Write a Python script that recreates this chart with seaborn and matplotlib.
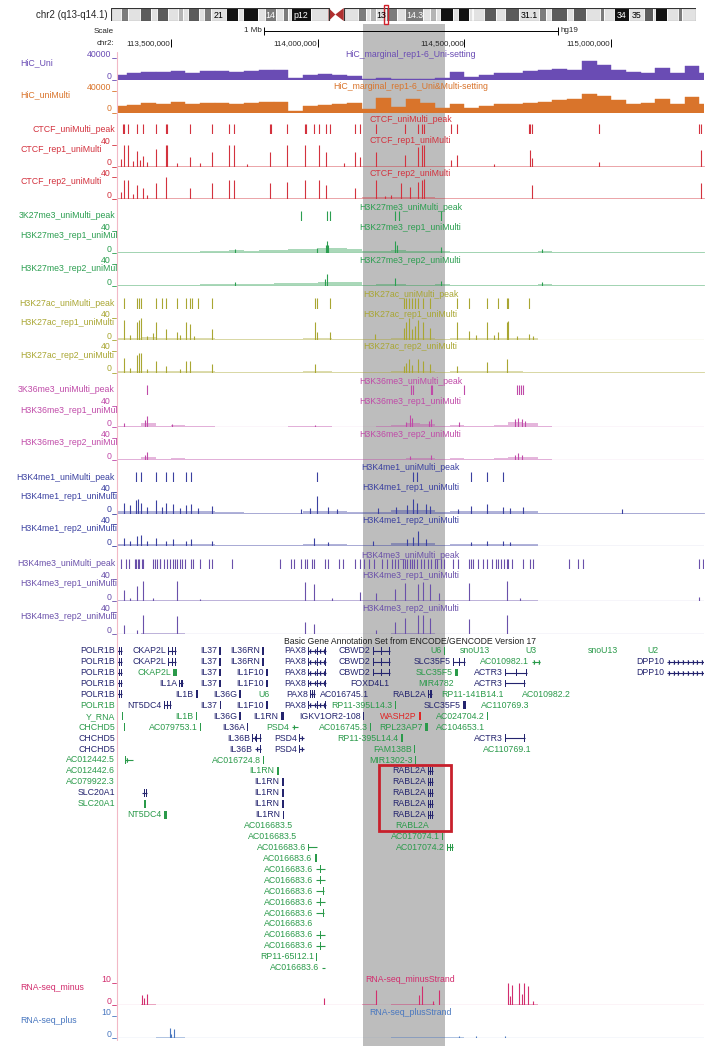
import numpy as np
import pandas as pd
import matplotlib.pyplot as plt
import seaborn as sns
from matplotlib.patches import Rectangle, Polygon
from matplotlib.lines import Line2D

W, H = 710, 1046
X0, X1 = 117, 704            # data area (pixels)
VIEW = (113.317, 115.316)    # chr2 window shown, Mb
HIGHLIGHT = (114.155, 114.434)
BIN0, BIN = 113.30, 0.05     # 50 kb bins for HiC / background signal
FS = 6.3

# ---------------- ideogram (chr2 cytobands, Mb) ----------------
band_edges = [0, 4.4, 7.1, 12.2, 16.7, 19.2, 24.0, 27.9, 30.0, 32.1, 36.6, 38.6, 41.8, 47.8,
              52.9, 55.0, 61.3, 64.1, 68.6, 71.5, 73.5, 75.0, 83.3, 90.5, 93.3, 96.8, 102.7,
              106.0, 107.5, 110.2, 114.4, 118.8, 122.4, 129.9, 132.5, 135.1, 136.8, 142.2,
              144.1, 148.7, 149.9, 150.5, 154.9, 159.8, 163.7, 169.7, 178.0, 180.6, 183.0,
              189.4, 191.9, 197.4, 203.3, 204.9, 209.0, 215.3, 221.5, 225.2, 226.1, 231.0,
              235.6, 237.3, 243.2]
band_names = ['p25.3', 'p25.2', 'p25.1', 'p24.3', 'p24.2', 'p24.1', 'p23.3', 'p23.2', 'p23.1',
              'p22.3', 'p22.2', 'p22.1', 'p21', 'p16.3', 'p16.2', 'p16.1', 'p15', 'p14',
              'p13.3', 'p13.2', 'p13.1', 'p12', 'p11.2', 'p11.1', 'q11.1', 'q11.2', 'q12.1',
              'q12.2', 'q12.3', 'q13', 'q14.1', 'q14.2', 'q14.3', 'q21.1', 'q21.2', 'q21.3',
              'q22.1', 'q22.2', 'q22.3', 'q23.1', 'q23.2', 'q23.3', 'q24.1', 'q24.2', 'q24.3',
              'q31.1', 'q31.2', 'q31.3', 'q32.1', 'q32.2', 'q32.3', 'q33.1', 'q33.2', 'q33.3',
              'q34', 'q35', 'q36.1', 'q36.2', 'q36.3', 'q37.1', 'q37.2', 'q37.3']
band_stain = ['gneg', 'gpos50', 'gneg', 'gpos75', 'gneg', 'gpos75', 'gneg', 'gpos25', 'gneg',
              'gpos75', 'gneg', 'gpos50', 'gneg', 'gpos100', 'gneg', 'gpos100', 'gneg', 'gpos50',
              'gneg', 'gpos50', 'gneg', 'gpos100', 'gneg', 'acen', 'acen', 'gneg', 'gpos50',
              'gneg', 'gpos25', 'gneg', 'gpos50', 'gneg', 'gpos50', 'gneg', 'gpos25', 'gneg',
              'gpos100', 'gneg', 'gpos100', 'gneg', 'gpos25', 'gneg', 'gpos75', 'gneg', 'gpos75',
              'gneg', 'gpos50', 'gneg', 'gpos75', 'gneg', 'gpos75', 'gneg', 'gpos50', 'gneg',
              'gpos100', 'gneg', 'gpos75', 'gneg', 'gpos100', 'gneg', 'gpos50', 'gneg']
band_shown = {'p21': '21', 'p14': '14', 'p12': 'p12', 'q13': '13', 'q14.3': '14.3',
              'q31.1': '31.1', 'q34': '34', 'q35': '35'}
stain_color = {'gneg': '#e2e2e2', 'gpos25': '#b4b4b4', 'gpos50': '#7c7c7c',
               'gpos75': '#5c5c5c', 'gpos100': '#121212', 'acen': '#b03030'}

ruler_ticks = [113.5, 114.0, 114.5, 115.0]
scale_bar = (113.818, 114.818)

# ---------------- HiC marginal (per 50 kb bin, x1000) ----------------
hic_uni = [9, 12, 15, 14, 17, 13, 17, 17, 15, 16, 19, 18, 3, 9, 11, 10, 8, 2, 3, 1, 2,
           2, 4, 15, 6, 10, 13, 12, 16, 18, 20, 19, 34, 27, 18, 15, 13, 21, 13, 25, 13]
hic_multi = [12, 13, 17, 15, 20, 15, 18, 18, 15, 18, 19, 19, 3, 12, 14, 15, 18, 6, 27, 10, 24,
             18, 8, 16, 8, 12, 15, 16, 18, 20, 22, 24, 33, 30, 22, 15, 18, 24, 15, 28, 15]

# ---------------- CTCF ----------------
ctcf_peaks = [113.337, 113.341, 113.356, 113.384, 113.406, 113.449, 113.485, 113.488, 113.567,
              113.640, 113.698, 113.717, 113.838, 113.843, 113.895, 113.957, 113.960, 113.988,
              114.004, 114.030, 114.041, 114.128, 114.146, 114.199, 114.298, 114.342, 114.357,
              114.363, 114.453, 114.476, 114.721, 114.724, 114.729, 114.958, 115.299, 115.306]
ctcf1_pos = [113.330, 113.341, 113.356, 113.370, 113.384, 113.395, 113.406, 113.420, 113.449,
             113.485, 113.488, 113.520, 113.567, 113.600, 113.640, 113.698, 113.717, 113.760,
             113.838, 113.895, 113.957, 114.004, 114.030, 114.090, 114.128, 114.146, 114.199,
             114.298, 114.342, 114.357, 114.363, 114.453, 114.476, 114.600, 114.724, 114.729,
             114.958, 115.306]
ctcf1_val = [14, 40, 40, 10, 28, 12, 20, 8, 32, 40, 40, 7, 18, 6, 27, 40, 40, 5, 27, 40, 40,
             40, 27, 6, 27, 18, 27, 21, 36, 40, 40, 12, 21, 4, 30, 15, 9, 30]
ctcf1_bg = [1.5, 1.5, 1.5, 1.5, 1.5, 1, 1, 1, 1, 1, 1, 1, 1, 1, 1, 1, 1, 1.5, 1.5, 1.5, 1.5,
            1.5, 1, 1, 1, 1, 1, 1, 1, 1, 1, 1, 1, 1, 1, 1, 1, 1, 1, 1, 1]
ctcf2_pos = [113.330, 113.341, 113.356, 113.370, 113.384, 113.406, 113.420, 113.449, 113.485,
             113.567, 113.640, 113.698, 113.717, 113.838, 113.895, 113.957, 114.004, 114.030,
             114.128, 114.199, 114.230, 114.250, 114.284, 114.314, 114.342, 114.357, 114.363,
             114.729, 115.306]
ctcf2_val = [12, 34, 34, 9, 26, 20, 7, 29, 40, 20, 29, 34, 34, 29, 31, 34, 34, 26, 20, 34, 6,
             8, 29, 22, 31, 34, 37, 26, 29]
ctcf2_bg = [1.5, 1.5, 1.5, 1.5, 1.5, 1.5, 1, 1, 1, 1, 1, 1, 1, 1, 1, 1, 1.5, 4, 4, 3.5, 3,
            3, 1.5, 1, 1, 1, 1, 1, 1, 1, 1, 1, 1, 1, 1, 1, 1, 1, 1, 1, 1]

# ---------------- H3K27me3 ----------------
k27me3_peaks = [113.945, 114.032, 114.044, 114.264, 114.277, 114.422]
k27me3_1_pos = [113.720, 113.997, 114.028, 114.032, 114.037, 114.264, 114.270, 114.422, 114.763]
k27me3_1_val = [8, 9, 15, 22, 14, 21, 14, 10, 8]
k27me3_1_bg = [1, 1, 1.5, 2, 2, 2.5, 3, 4, 5, 4, 5, 6, 7, 7, 9, 9, 8, 3, 4, 5, 3, 3, 4, 2,
               1.5, 1.5, 1.5, 1.5, 2.5, 4, 2, 1.5, 1.5, 1, 1.5, 1, 1, 1, 1, 1, 1]
k27me3_2_pos = [113.720, 114.027, 114.032, 114.264, 114.422, 114.763]
k27me3_2_val = [7, 12, 22, 15, 9, 7]
k27me3_2_bg = [1, 1, 1.5, 2, 2, 2.5, 3, 3.5, 4, 4, 4.5, 5, 6, 6, 8, 8, 7, 2.5, 3.5, 4, 2.5,
               2.5, 3, 2, 1.5, 1.5, 1.5, 1.5, 2.5, 3.5, 2, 1.5, 1, 1, 1, 1, 1, 1, 1, 1, 1]

# ---------------- H3K27ac ----------------
k27ac_peaks = [113.341, 113.384, 113.392, 113.399, 113.451, 113.469, 113.485, 113.523, 113.551,
               113.567, 113.573, 113.593, 113.640, 113.991, 113.998, 114.043, 114.295, 114.301,
               114.311, 114.321, 114.332, 114.342, 114.360, 114.383, 114.476, 114.515, 114.577,
               114.616, 114.644, 114.650, 114.721]
k27ac_1_pos = [113.341, 113.360, 113.384, 113.392, 113.399, 113.420, 113.440, 113.451, 113.485,
               113.523, 113.530, 113.551, 113.567, 113.580, 113.640, 113.991, 113.998, 114.043,
               114.197, 114.295, 114.301, 114.311, 114.321, 114.332, 114.342, 114.360, 114.383,
               114.476, 114.515, 114.540, 114.577, 114.600, 114.616, 114.644, 114.650, 114.680,
               114.721, 114.732]
k27ac_1_val = [36, 10, 33, 36, 40, 8, 12, 33, 20, 14, 9, 33, 30, 8, 20, 33, 14, 14, 11, 22, 33,
               40, 20, 26, 36, 33, 22, 33, 17, 10, 33, 9, 14, 33, 34, 8, 11, 8]
k27ac_1_bg = [4, 4, 5, 4, 4, 4, 3.5, 1.5, 1.5, 1, 1, 1, 1, 3, 3, 2.5, 1, 1, 1.5, 4, 4, 3.5, 2,
              4, 4, 4, 4, 4.5, 3.5, 0.8, 0.5, 0.5, 0.5, 0.5, 0.5, 0.5, 0.5, 0.5, 0.5, 0.5, 0.5]
k27ac_2_pos = [113.341, 113.360, 113.384, 113.392, 113.399, 113.420, 113.451, 113.485, 113.530,
               113.551, 113.567, 113.640, 113.991, 114.295, 114.301, 114.311, 114.321, 114.342,
               114.360, 114.383, 114.476, 114.577, 114.644]
k27ac_2_val = [27, 8, 32, 35, 35, 6, 21, 11, 6, 21, 21, 16, 16, 11, 18, 24, 13, 24, 21, 16, 11,
               19, 24]
k27ac_2_bg = [3, 3, 3.5, 3, 3, 3, 2.5, 1, 1, 0.8, 0.8, 0.8, 0.8, 2, 2, 1.5, 0.8, 0.8, 1, 2.5,
              2.5, 2, 1.5, 2, 2, 2, 2, 2, 1.5, 0.5, 0.4, 0.4, 0.4, 0.4, 0.4, 0.4, 0.4, 0.4, 0.4,
              0.4, 0.4]

# ---------------- H3K36me3 ----------------
k36_peaks = [113.418, 114.318, 114.326, 114.385, 114.391, 114.497, 114.678, 114.686, 114.693,
             114.701]
k36_1_pos = [113.340, 113.411, 113.418, 113.505, 113.990, 114.300, 114.314, 114.322, 114.379,
             114.388, 114.480, 114.672, 114.683, 114.695, 114.705]
k36_1_val = [8, 14, 20, 7, 5, 10, 22, 18, 12, 16, 10, 15, 18, 16, 12]
k36_1_bg = [3, 3, 8, 2, 4, 2, 2, 1.5, 1.5, 1.5, 1.5, 1.5, 2, 3, 3, 1.5, 1.5, 1.5, 3, 4, 8, 7,
            3, 5, 3, 2, 4, 10, 8, 2, 1, 1, 1, 1, 1, 1, 1, 1, 1, 1, 1]
k36_2_pos = [113.411, 113.418, 114.314, 114.388, 114.672, 114.683, 114.695]
k36_2_val = [10, 15, 8, 9, 10, 12, 10]
k36_2_bg = [2, 2, 6, 1.5, 3, 1.5, 1.5, 1, 1, 1, 1, 1, 1.5, 2.5, 2, 1, 1, 1, 2, 2.5, 4, 4, 2,
            3, 2, 1.5, 3, 6, 5, 1.5, 0.7, 0.7, 0.7, 0.7, 0.7, 0.7, 0.7, 0.7, 0.7, 0.7, 0.7]

# ---------------- H3K4me1 ----------------
k4me1_peaks = [113.381, 113.399, 113.451, 113.485, 113.509, 113.551, 113.570, 113.999, 114.326,
               114.340, 114.521, 114.577, 114.630]
k4me1_1_pos = [113.341, 113.361, 113.381, 113.389, 113.399, 113.418, 113.451, 113.469, 113.485,
               113.509, 113.531, 113.551, 113.570, 113.593, 113.640, 113.942, 113.973, 113.999,
               114.035, 114.066, 114.205, 114.267, 114.306, 114.326, 114.340, 114.368, 114.383,
               114.477, 114.521, 114.578, 114.630, 114.655, 114.701, 115.036]
k4me1_1_val = [20, 15, 24, 26, 20, 12, 24, 12, 20, 18, 10, 16, 18, 10, 14, 8, 10, 32, 12, 8,
               10, 12, 16, 26, 20, 18, 14, 8, 14, 18, 12, 10, 12, 8]
k4me1_1_bg = [5, 5, 5, 4.5, 5, 4.5, 4, 3, 2, 1.5, 1.5, 1.5, 1.5, 5, 5, 4, 2, 2.5, 3, 6, 6, 6,
              3, 5, 5, 5, 5, 5, 4, 1, 1, 1, 1, 1, 1, 1, 1, 1, 1, 1, 1]
k4me1_2_pos = [113.341, 113.361, 113.384, 113.399, 113.418, 113.451, 113.485, 113.509, 113.551,
               113.570, 113.640, 113.989, 114.035, 114.190, 114.306, 114.326, 114.342, 114.368,
               114.521, 114.578, 114.630, 114.655]
k4me1_2_val = [14, 10, 18, 20, 10, 14, 10, 12, 10, 12, 10, 14, 8, 10, 12, 16, 28, 12, 8, 10,
               10, 8]
k4me1_2_bg = [4, 4, 4, 3.5, 4, 3.5, 3, 2, 1.5, 1, 1, 1, 1, 4, 4, 3, 1.5, 2, 2.5, 5, 5, 5, 2.5,
              4, 4, 4, 4, 4, 3, 0.8, 0.8, 0.8, 0.8, 0.8, 0.8, 0.8, 0.8, 0.8, 0.8, 0.8, 0.8]

# ---------------- H3K4me3 ----------------
k4me3_peaks = [113.330, 113.348, 113.358, 113.378, 113.382, 113.387, 113.393, 113.401, 113.406,
               113.438, 113.446, 113.454, 113.462, 113.465, 113.477, 113.486, 113.496, 113.508,
               113.514, 113.520, 113.531, 113.539, 113.547, 113.570, 113.575, 113.601, 113.632,
               113.640, 113.710, 113.872, 113.911, 113.919, 113.942, 113.958, 113.965, 113.981,
               113.989, 114.027, 114.035, 114.074, 114.085, 114.128, 114.144, 114.159, 114.175,
               114.193, 114.221, 114.237, 114.255, 114.264, 114.275, 114.291, 114.299, 114.306,
               114.314, 114.322, 114.330, 114.340, 114.353, 114.364, 114.376, 114.388, 114.399,
               114.407, 114.419, 114.430, 114.461, 114.477, 114.516, 114.523, 114.531, 114.547,
               114.562, 114.578, 114.593, 114.609, 114.616, 114.624, 114.636, 114.644, 114.650,
               114.663, 114.698, 114.725, 114.733, 114.857, 114.888, 114.903, 115.298, 115.314]
k4me3_1_pos = [113.340, 113.360, 113.384, 113.404, 113.440, 113.520, 113.600, 113.958, 113.989,
               114.050, 114.146, 114.199, 114.264, 114.299, 114.342, 114.360, 114.383, 114.415,
               114.516, 114.644, 114.690, 115.298]
k4me3_1_val = [19, 6, 27, 36, 5, 36, 4, 34, 30, 5, 16, 14, 22, 33, 30, 34, 30, 14, 33, 36, 5, 7]
k4me3_2_pos = [113.340, 113.384, 113.404, 113.520, 113.958, 113.989, 114.199, 114.264, 114.299,
               114.342, 114.360, 114.383, 114.516, 114.644]
k4me3_2_val = [16, 8, 35, 32, 21, 19, 8, 21, 29, 35, 35, 29, 27, 35]
k4me3_bg = [0.8, 0.8, 1, 1, 1, 0.8, 0.8, 0.6, 0.6, 0.6, 0.6, 0.6, 0.6, 0.8, 0.8, 0.6, 0.6, 0.8,
            0.8, 1, 1, 1, 0.8, 0.8, 0.8, 0.8, 0.8, 0.8, 0.6, 0.5, 0.5, 0.5, 0.5, 0.5, 0.5, 0.5,
            0.5, 0.5, 0.5, 0.5, 0.5]

# ---------------- RNA-seq ----------------
rna_minus_pos = [113.403, 113.408, 113.418, 114.023, 114.199, 114.345, 114.357, 114.392, 114.415,
                 114.647, 114.655, 114.663, 114.686, 114.695, 114.702, 114.717, 114.733]
rna_minus_val = [4.5, 3, 5, 3, 7, 4.5, 8.5, 2, 7, 10, 4, 9, 10, 5, 10, 8.5, 2]
rna_minus_bg = [0.2, 0.2, 0.3, 0.2, 0.2, 0.2, 0.1, 0.1, 0.1, 0.1, 0, 0, 0.1, 0.2, 0.1, 0, 0.1,
                0.3, 0.2, 0.3, 0.4, 0.3, 0.1, 0.1, 0.1, 0.1, 0.2, 0.5, 0.6, 0.2, 0.1, 0.1, 0.1,
                0, 0.1, 0, 0, 0.1, 0, 0, 0]
rna_plus_pos = [113.496, 113.500, 113.511, 114.480, 114.540, 114.640]
rna_plus_val = [4.5, 2, 4, 1, 0.8, 1]
rna_plus_bg = [0.2, 0.2, 0.2, 0.3, 0.3, 0.2, 0.1, 0.1, 0.1, 0.1, 0, 0, 0.1, 0.1, 0.1, 0.1, 0.1,
               0.2, 0.2, 0.3, 0.3, 0.3, 0.4, 0.3, 0.2, 0.2, 0.2, 0.2, 0.2, 0.1, 0.1, 0.1, 0.1,
               0.1, 0.1, 0, 0.1, 0.1, 0, 0, 0]

# ---------------- GENCODE v17 genes (name, start, end, kind) per row ----------------
genes_by_row = [
    [("POLR1B", 113.317, 113.333, 'c'), ("CKAP2L", 113.491, 113.518, 'c'), ("IL37", 113.665, 113.671, 'c'),
     ("IL36RN", 113.811, 113.818, 'c'), ("PAX8", 113.967, 114.029, 'c'), ("CBWD2", 114.188, 114.247, 'c'),
     ("U6", 114.431, 114.432, 'n'), ("snoU13", 114.596, 114.597, 'n'), ("U3", 114.754, 114.755, 'n'),
     ("snoU13", 115.032, 115.033, 'n'), ("U2", 115.168, 115.169, 'n')],
    [("POLR1B", 113.317, 113.333, 'c'), ("CKAP2L", 113.491, 113.518, 'c'), ("IL37", 113.665, 113.671, 'c'),
     ("IL36RN", 113.811, 113.818, 'c'), ("PAX8", 113.967, 114.029, 'c'), ("CBWD2", 114.188, 114.247, 'c'),
     ("SLC35F5", 114.461, 114.502, 'c'), ("AC010982.1", 114.729, 114.757, 'n'), ("DPP10", 115.189, 115.316, 'c')],
    [("POLR1B", 113.317, 113.333, 'c'), ("CKAP2L", 113.509, 113.520, 'n'), ("IL37", 113.665, 113.671, 'c'),
     ("IL1F10", 113.824, 113.831, 'c'), ("PAX8", 113.967, 114.029, 'c'), ("CBWD2", 114.188, 114.247, 'c'),
     ("SLC35F5", 114.468, 114.479, 'n'), ("ACTR3", 114.638, 114.712, 'c'), ("DPP10", 115.189, 115.316, 'c')],
    [("POLR1B", 113.317, 113.333, 'c'), ("IL1A", 113.529, 113.541, 'c'), ("IL37", 113.665, 113.671, 'c'),
     ("IL1F10", 113.824, 113.831, 'c'), ("PAX8", 113.967, 114.029, 'c'), ("FOXD4L1", 114.252, 114.254, 'c'),
     ("MIR4782", 114.471, 114.472, 'n'), ("ACTR3", 114.638, 114.705, 'c')],
    [("POLR1B", 113.317, 113.333, 'c'), ("IL1B", 113.585, 113.592, 'c'), ("IL36G", 113.734, 113.738, 'c'),
     ("U6", 113.844, 113.845, 'n'), ("PAX8", 113.974, 113.991, 'c'), ("AC016745.1", 114.184, 114.185, 'c'),
     ("RABL2A", 114.377, 114.389, 'c'), ("RP11-141B14.1", 114.641, 114.642, 'n'), ("AC010982.2", 114.869, 114.870, 'n')],
    [("POLR1B", 113.318, 113.319, 'n'), ("NT5DC4", 113.477, 113.500, 'c'), ("IL37", 113.667, 113.671, 'c'),
     ("IL1F10", 113.826, 113.831, 'c'), ("PAX8", 113.967, 114.029, 'c'), ("RP11-395L14.3", 114.264, 114.266, 'n'),
     ("SLC35F5", 114.496, 114.505, 'c'), ("AC110769.3", 114.729, 114.731, 'n')],
    [("Y_RNA", 113.335, 113.336, 'n'), ("IL1B", 113.586, 113.591, 'n'), ("IL36G", 113.734, 113.738, 'c'),
     ("IL1RN", 113.875, 113.886, 'c'), ("IGKV1OR2-108", 114.156, 114.157, 'c'), ("WASH2P", 114.346, 114.351, 'p'),
     ("AC024704.2", 114.578, 114.580, 'n')],
    [("CHCHD5", 113.341, 113.343, 'n'), ("AC079753.1", 113.600, 113.601, 'n'), ("IL36A", 113.761, 113.762, 'c'),
     ("PSD4", 113.912, 113.935, 'n'), ("AC016745.3", 114.179, 114.180, 'n'), ("RPL23AP7", 114.366, 114.377, 'n'),
     ("AC104653.1", 114.579, 114.581, 'n')],
    [("CHCHD5", 113.344, 113.345, 'c'), ("IL36B", 113.778, 113.806, 'c'), ("PSD4", 113.938, 113.954, 'c'),
     ("RP11-395L14.4", 114.284, 114.292, 'n'), ("ACTR3", 114.638, 114.705, 'c')],
    [("CHCHD5", 113.344, 113.345, 'c'), ("IL36B", 113.786, 113.806, 'c'), ("PSD4", 113.938, 113.954, 'c'),
     ("FAM138B", 114.329, 114.330, 'n'), ("AC110769.1", 114.736, 114.737, 'n')],
    [("AC012442.5", 113.344, 113.371, 'n'), ("AC016724.8", 113.815, 113.816, 'n'), ("MIR1302-3", 114.333, 114.334, 'n')],
    [("AC012442.6", 113.347, 113.348, 'n'), ("IL1RN", 113.861, 113.870, 'n'), ("RABL2A", 114.377, 114.392, 'c')],
    [("AC079922.3", 113.398, 113.399, 'n'), ("IL1RN", 113.878, 113.886, 'c'), ("RABL2A", 114.377, 114.392, 'c')],
    [("SLC20A1", 113.401, 113.418, 'c'), ("IL1RN", 113.878, 113.886, 'c'), ("RABL2A", 114.377, 114.392, 'c')],
    [("SLC20A1", 113.409, 113.416, 'n'), ("IL1RN", 113.878, 113.886, 'c'), ("RABL2A", 114.377, 114.392, 'c')],
    [("NT5DC4", 113.477, 113.486, 'n'), ("IL1RN", 113.881, 113.886, 'c'), ("RABL2A", 114.377, 114.392, 'c')],
    [("AC016683.5", 113.923, 113.924, 'n'), ("RABL2A", 114.386, 114.388, 'n')],
    [("AC016683.5", 113.937, 113.938, 'n'), ("AC017074.1", 114.425, 114.427, 'n')],
    [("AC016683.6", 113.968, 113.999, 'n'), ("AC017074.2", 114.442, 114.461, 'n')],
    [("AC016683.6", 113.991, 113.999, 'n')],
    [("AC016683.6", 113.993, 114.027, 'n')],
    [("AC016683.6", 113.993, 114.027, 'n')],
    [("AC016683.6", 113.993, 114.022, 'n')],
    [("AC016683.6", 113.993, 114.027, 'n')],
    [("AC016683.6", 113.993, 114.022, 'n')],
    [("AC016683.6", 113.993, 113.994, 'n')],
    [("AC016683.6", 113.993, 114.027, 'n')],
    [("AC016683.6", 113.993, 114.027, 'n')],
    [("RP11-65I12.1", 113.996, 113.997, 'n')],
    [("AC016683.6", 114.014, 114.027, 'n')],
]
gene_strand = {'DPP10': '+', 'PAX8': '-', 'AC010982.1': '+', 'IL36B': '-', 'PSD4': '+',
               'AC012442.5': '+'}
kind_color = {'c': '#24246e', 'n': '#2a9a4a', 'p': '#e02424'}
red_box = (114.209, 114.454, 10.45, 16.5)   # x0, x1, row0, row1

# =====================================================================
sns.set_theme(style="white")
plt.rcParams['font.family'] = ['Liberation Sans', 'DejaVu Sans']

fig = plt.figure(figsize=(W / 100, H / 100), dpi=100)


def fy(y):
    return 1 - y / H


def px_axes(x0, y0, x1, y1):
    ax = fig.add_axes([x0 / W, fy(y1), (x1 - x0) / W, (y1 - y0) / H])
    ax.set_facecolor('none')
    return ax


def ftext(x, y, s, **kw):
    kw.setdefault('fontsize', FS)
    kw.setdefault('va', 'center')
    fig.text(x / W, fy(y), s, **kw)


def fline(x0, x1, y0, y1, color, lw=0.7):
    fig.add_artist(Line2D([x0 / W, x1 / W], [fy(y0), fy(y1)], color=color, lw=lw))


# grey highlight behind everything
hl = px_axes(X0, 24, X1, H)
hl.axvspan(*HIGHLIGHT, color='#bdbdbd', lw=0)
hl.set_xlim(VIEW)
hl.set_axis_off()

# left border of the data area
fline(X0, X0, 52, 1040, '#f2b8c6', lw=0.8)

# ideogram
ia = px_axes(110.6, 8, 696.4, 21)
starts = np.array(band_edges[:-1]); ends = np.array(band_edges[1:])
for s, e, st, nm in zip(starts, ends, band_stain, band_names):
    if st == 'acen':
        if nm.startswith('p'):
            ia.add_patch(Polygon([(s, 0), (s, 1), (e, 0.5)], color=stain_color[st], lw=0))
        else:
            ia.add_patch(Polygon([(s, 0.5), (e, 1), (e, 0)], color=stain_color[st], lw=0))
    else:
        ia.bar(s, 1, width=e - s, align='edge', color=stain_color[st], edgecolor='white', lw=0.6)
    if nm in band_shown:
        tc = 'white' if st in ('gpos50', 'gpos75', 'gpos100') else 'black'
        ia.text((s + e) / 2, 0.45, band_shown[nm], color=tc, ha='center', va='center', fontsize=6.3)
cen_l = band_edges[band_names.index('p11.1')]
cen_r = band_edges[band_names.index('q11.1') + 1]
ia.add_patch(Rectangle((0, 0), cen_l, 1, fill=False, ec='#333333', lw=0.8))
ia.add_patch(Rectangle((cen_r, 0), band_edges[-1] - cen_r, 1, fill=False, ec='#333333', lw=0.8))
ia.add_patch(Rectangle((VIEW[0], -0.2), VIEW[1] - VIEW[0], 1.4, fill=False, ec='#d0202a',
                       lw=1.0, clip_on=False))
ia.set_xlim(0, band_edges[-1]); ia.set_ylim(0, 1)
ia.set_axis_off()
ftext(108, 14.5, 'chr2 (q13-q14.1)', ha='right', fontsize=7)

# ruler
ra = px_axes(X0, 24, X1, 50)
ra.set_xlim(VIEW); ra.set_ylim(50, 24)
ra.hlines(31, *scale_bar, color='black', lw=0.7)
ra.vlines(scale_bar, 27, 35, color='black', lw=0.7)
ra.annotate('1 Mb', (scale_bar[0], 31), xytext=(-1.5, 0), textcoords='offset points',
            ha='right', va='center', fontsize=5.8)
ra.annotate('hg19', (scale_bar[1], 31), xytext=(2, 0), textcoords='offset points',
            ha='left', va='center', fontsize=5.8)
ra.vlines(ruler_ticks, 39, 47, color='black', lw=0.7)
for t in ruler_ticks:
    ra.annotate(f"{int(round(t * 1e6)):,}", (t, 43.3), xytext=(-0.5, 0),
                textcoords='offset points', ha='right', va='center', fontsize=5.8)
ra.set_axis_off()
ftext(114, 31.7, 'Scale', ha='right', fontsize=5.8)
ftext(114, 43.3, 'chr2:', ha='right', fontsize=5.8)

n_bins = len(hic_uni)
bin_range = (BIN0, BIN0 + BIN * n_bins)
mids = BIN0 + BIN * (np.arange(n_bins) + 0.5)
CENTER = (X0 + X1) / 2
SIG_H = 22


def binned(vals, ymax):
    return pd.DataFrame({'pos': mids, 'val': np.minimum(np.asarray(vals, float), ymax)})


def axis_marks(top, base, color, top_lab):
    ftext(111, top - 3.5, top_lab, ha='right', color=color)
    ftext(111, base - 3.7, '0', ha='right', color=color)
    fline(111.5, 116, top, top, color, lw=0.6)
    fline(111.5, 116, base, base, color, lw=0.6)


def hic_track(top, label, title, color, vals):
    base = top + SIG_H
    ax = px_axes(X0, top, X1, base)
    sns.histplot(data=binned(vals, 40), x='pos', weights='val', binwidth=BIN, binrange=bin_range,
                 element='bars', color=color, alpha=1, edgecolor=color, linewidth=0.3, ax=ax)
    ax.set_xlim(VIEW); ax.set_ylim(0, 40)
    ax.set_axis_off()
    ftext(CENTER, top - 3.8, title, ha='center', color=color)
    ftext(20.5, top + 4.7, label, ha='left', color=color)
    axis_marks(top, base, color, '40000')


def signal_track(top, label, title, color, pos, val, bg, ymax=40):
    base = top + SIG_H
    ax = px_axes(X0, top, X1, base)
    sns.histplot(data=binned(bg, ymax), x='pos', weights='val', binwidth=BIN, binrange=bin_range,
                 element='step', fill=True, color=color, alpha=0.4, linewidth=0, ax=ax)
    ax.vlines(pos, 0, np.minimum(val, ymax), color=color, lw=0.8)
    ax.axhline(0, color=color, lw=0.8)
    ax.set_xlim(VIEW); ax.set_ylim(0, ymax)
    ax.set_axis_off()
    ftext(CENTER, top - 3.8, title, ha='center', color=color)
    ftext(20.5, top + 4.7, label, ha='left', color=color)
    axis_marks(top, base, color, str(ymax))


def peak_track(top, label, title, color, pos):
    ax = px_axes(X0, top, X1, top + 10.5)
    ax.vlines(pos, 0, 1, color=color, lw=0.8)
    ax.set_xlim(VIEW); ax.set_ylim(0, 1)
    ax.set_axis_off()
    ftext(CENTER, top - 3.5, title, ha='center', color=color)
    ftext(115, top + 5.5, label, ha='right', color=color)


c_hu, c_hm = '#6a4cb4', '#d9742b'
c_ctcf, c_k27me3, c_k27ac = '#d3323e', '#2b9e50', '#a9a632'
c_k36, c_k4me1, c_k4me3 = '#c04aa8', '#3a40a0', '#6a50aa'
c_rm, c_rp = '#d22e6e', '#4a78c0'

hic_track(58, 'HiC_Uni', 'HiC_marginal_rep1-6_Uni-setting', c_hu, hic_uni)
hic_track(90.5, 'HiC_uniMulti', 'HiC_marginal_rep1-6_Uni&Multi-setting', c_hm, hic_multi)

peak_track(123.5, 'CTCF_uniMulti_peak', 'CTCF_uniMulti_peak', c_ctcf, ctcf_peaks)
signal_track(144.5, 'CTCF_rep1_uniMulti', 'CTCF_rep1_uniMulti', c_ctcf, ctcf1_pos, ctcf1_val, ctcf1_bg)
signal_track(177, 'CTCF_rep2_uniMulti', 'CTCF_rep2_uniMulti', c_ctcf, ctcf2_pos, ctcf2_val, ctcf2_bg)

peak_track(210.5, '3K27me3_uniMulti_peak', 'H3K27me3_uniMulti_peak', c_k27me3, k27me3_peaks)
signal_track(231, 'H3K27me3_rep1_uniMul', 'H3K27me3_rep1_uniMulti', c_k27me3, k27me3_1_pos, k27me3_1_val, k27me3_1_bg)
signal_track(264, 'H3K27me3_rep2_uniMul', 'H3K27me3_rep2_uniMulti', c_k27me3, k27me3_2_pos, k27me3_2_val, k27me3_2_bg)

peak_track(298, 'H3K27ac_uniMulti_peak', 'H3K27ac_uniMulti_peak', c_k27ac, k27ac_peaks)
signal_track(318, 'H3K27ac_rep1_uniMulti', 'H3K27ac_rep1_uniMulti', c_k27ac, k27ac_1_pos, k27ac_1_val, k27ac_1_bg)
signal_track(350.5, 'H3K27ac_rep2_uniMulti', 'H3K27ac_rep2_uniMulti', c_k27ac, k27ac_2_pos, k27ac_2_val, k27ac_2_bg)

peak_track(384.5, '3K36me3_uniMulti_peak', 'H3K36me3_uniMulti_peak', c_k36, k36_peaks)
signal_track(405.5, 'H3K36me3_rep1_uniMul', 'H3K36me3_rep1_uniMulti', c_k36, k36_1_pos, k36_1_val, k36_1_bg)
signal_track(438, 'H3K36me3_rep2_uniMul', 'H3K36me3_rep2_uniMulti', c_k36, k36_2_pos, k36_2_val, k36_2_bg)

peak_track(471.5, 'H3K4me1_uniMulti_peak', 'H3K4me1_uniMulti_peak', c_k4me1, k4me1_peaks)
signal_track(491.5, 'H3K4me1_rep1_uniMulti', 'H3K4me1_rep1_uniMulti', c_k4me1, k4me1_1_pos, k4me1_1_val, k4me1_1_bg)
signal_track(524, 'H3K4me1_rep2_uniMulti', 'H3K4me1_rep2_uniMulti', c_k4me1, k4me1_2_pos, k4me1_2_val, k4me1_2_bg)

peak_track(558.5, 'H3K4me3_uniMulti_peak', 'H3K4me3_uniMulti_peak', c_k4me3, k4me3_peaks)
signal_track(578.8, 'H3K4me3_rep1_uniMulti', 'H3K4me3_rep1_uniMulti', c_k4me3, k4me3_1_pos, k4me3_1_val, k4me3_bg)
signal_track(612, 'H3K4me3_rep2_uniMulti', 'H3K4me3_rep2_uniMulti', c_k4me3, k4me3_2_pos, k4me3_2_val, k4me3_bg)

# genes
G_TOP, G_BOT = 645.2, 973.2
n_rows = len(genes_by_row)
ga = px_axes(X0, G_TOP, X1, G_BOT)
ga.set_xlim(VIEW); ga.set_ylim(n_rows - 0.5, -0.5)
ftext(CENTER, 641.7, 'Basic Gene Annotation Set from ENCODE/GENCODE Version 17', ha='center',
      fontsize=6.2, color='#202020')
row_px = (G_BOT - G_TOP) / n_rows
mb_per_px = (VIEW[1] - VIEW[0]) / (X1 - X0)
for r, row in enumerate(genes_by_row):
    for n, s, e, k in row:
        c = kind_color[k]
        span = e - s
        if span <= 0.012:
            ga.add_patch(Rectangle((s, r - 0.36), max(span, 0.0014), 0.72, color=c, lw=0))
        else:
            ga.hlines(r, s, e, color=c, lw=0.8)
            if n in gene_strand:
                # chevrons along the intron showing strand
                xs = np.arange(s + 0.008, e - 0.004, 0.016)
                ga.plot(xs, np.full(len(xs), r), ls='none', color=c, ms=2.6, mew=0.6,
                        marker=(r'$\rangle$' if gene_strand[n] == '+' else r'$\langle$'))
            for bx in (s, (s + e) / 2, e - 0.0025):
                if gene_strand.get(n) == '+' and bx > s:
                    continue
                ga.add_patch(Rectangle((bx, r - 0.36), 0.0025, 0.72, color=c, lw=0))
        s_px = X0 + (s - VIEW[0]) / mb_per_px
        if s_px - 2 - len(n) * 4.6 < X0:
            ftext(115, G_TOP + (r + 0.5) * row_px, n, ha='right', color=c)
        else:
            ga.annotate(n, (s, r), xytext=(-1.6, 0), textcoords='offset points', ha='right',
                        va='center', fontsize=FS, color=c)
ga.add_patch(Rectangle((red_box[0], red_box[2]), red_box[1] - red_box[0], red_box[3] - red_box[2],
                       fill=False, ec='#c8202c', lw=2))
ga.set_axis_off()

signal_track(983, 'RNA-seq_minus', 'RNA-seq_minusStrand', c_rm, rna_minus_pos, rna_minus_val, rna_minus_bg, ymax=10)
signal_track(1016, 'RNA-seq_plus', 'RNA-seq_plusStrand', c_rp, rna_plus_pos, rna_plus_val, rna_plus_bg, ymax=10)

fig.savefig('out.png', dpi=100)
